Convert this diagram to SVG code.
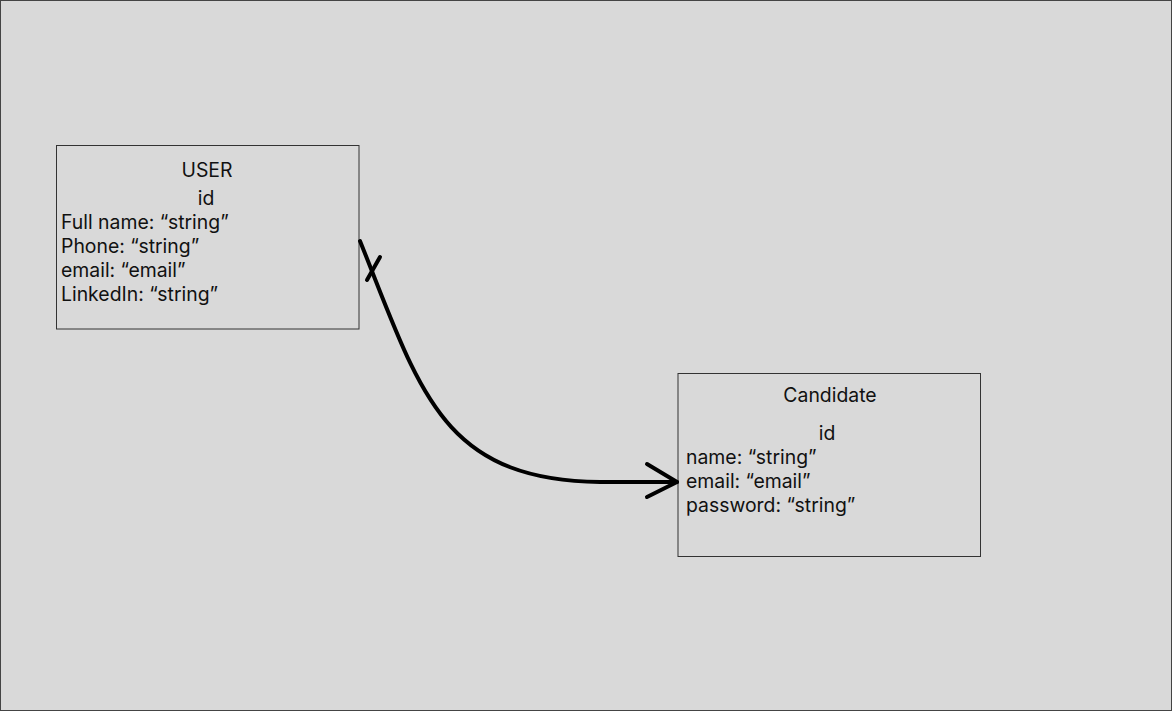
<svg xmlns="http://www.w3.org/2000/svg" width="1172" height="711" viewBox="0 0 1172 711">
<style>
.box{fill:#d9d9d9;stroke:#333;stroke-width:1}
text{font-family:Inter,"Liberation Sans",sans-serif;font-size:19.4px;fill:#111}
.c{text-anchor:middle}
.conn{fill:none;stroke:#000;stroke-width:4;stroke-linecap:round;stroke-linejoin:round}
</style>
<rect x="0.5" y="0.5" width="1171" height="710" fill="#d9d9d9" stroke="#444" stroke-width="1"/>
<g id="user">
<rect class="box" x="56.5" y="145.5" width="302.5" height="183.5"/>
<text class="c" x="207" y="177">USER</text>
<text class="c" x="206" y="205">id</text>
<text x="61" y="229">Full name: “string”</text>
<text x="61" y="253">Phone: “string”</text>
<text x="61" y="277">email: “email”</text>
<text x="61" y="301">LinkedIn: “string”</text>
</g>
<g id="candidate">
<rect class="box" x="678" y="373.5" width="302.5" height="183"/>
<text class="c" x="830" y="402">Candidate</text>
<text class="c" x="827" y="440">id</text>
<text x="686" y="464">name: “string”</text>
<text x="686" y="488">email: “email”</text>
<text x="686" y="512">password: “string”</text>
</g>
<g id="connectors">
<path class="conn" d="M360,241 C420,390 440,480 600,482 L677,482"/>
<path class="conn" d="M367,280 L380,257"/>
<path class="conn" d="M647,464 L677,482 L647,497"/>
</g>
</svg>
